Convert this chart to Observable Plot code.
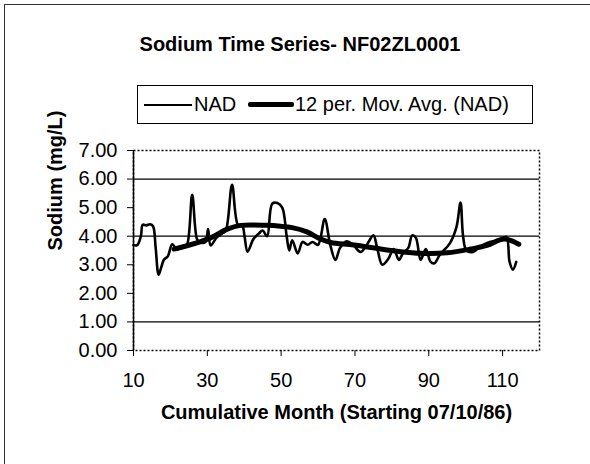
<!DOCTYPE html>
<html>
<head>
<meta charset="utf-8">
<script src="https://cdn.jsdelivr.net/npm/d3@7"></script>
<script src="https://cdn.jsdelivr.net/npm/@observablehq/plot@0.6"></script>
<style>
  html, body { margin: 0; padding: 0; background: #fff; }
  #wrap { position: relative; width: 590px; height: 464px; overflow: hidden; background: #fff;
          font-family: "Liberation Sans", Arial, sans-serif; color: #000; }
  #outer { position: absolute; left: 4px; top: 4px; width: 700px; height: 600px; z-index: 5; pointer-events: none;
           border-top: 1.5px solid #333; border-left: 1.5px solid #333; }
  #header { position: relative; height: 140px; }
  #title { position: absolute; left: 0; width: 600px; top: 34px; text-align: center;
           font-weight: bold; font-size: 20px; line-height: 20px; }
  #legend { position: absolute; left: 137px; top: 85px; width: 396px; height: 39px; box-sizing: border-box;
            border: 1px solid #000; font-size: 20px; }
  .sw { position: absolute; top: 18px; background: #000; }
  .lt { position: absolute; top: 8px; line-height: 20px; white-space: nowrap; }
  #chart { position: absolute; left: 0; top: 140px; }
</style>
</head>
<body>
<div id="wrap">
  <div id="outer"></div>
  <div id="header">
    <div id="title">Sodium Time Series- NF02ZL0001</div>
    <div id="legend">
      <div class="sw" style="left:6px;width:48px;height:2px;"></div>
      <div class="lt" style="left:56px;">NAD</div>
      <div class="sw" style="left:110px;width:46px;height:5px;top:16px;border-radius:2px;"></div>
      <div class="lt" style="left:157px;">12 per. Mov. Avg. (NAD)</div>
    </div>
  </div>
  <div id="chart"></div>
</div>
<script>
// NAD sodium series (cumulative month, mg/L)
const nadMonths = [10, 11, 12, 12.5, 13.5, 14.5, 15.3, 16, 16.8, 17.5, 18.2, 19.3, 20.5, 21.8, 22.5, 23.5, 24.5, 25.9, 27.2, 28, 29.5, 30.2, 30.9, 32.5, 34, 35, 36.7, 38.3, 39.5, 40.1, 40.9, 42.5, 44, 45, 46.2, 47.6, 49, 50.3, 51.5, 52.2, 53, 54.5, 55.8, 57.2, 58.5, 60, 61.8, 63.3, 64.7, 66, 67.8, 69.5, 71.5, 73, 75, 76, 77.4, 79, 80.5, 81.9, 83, 84.5, 85.5, 86.5, 87.8, 89.2, 90.5, 91.5, 93, 95.7, 97.5, 98.6, 99.3, 100.2, 102, 103.8, 106.5, 109.2, 111, 111.9, 112.8, 113.7];
const nadValues = [3.69, 3.69, 4.0, 4.4, 4.38, 4.42, 4.35, 3.6, 2.65, 2.9, 3.17, 3.3, 3.72, 3.52, 3.62, 3.6, 3.7, 5.45, 3.9, 3.78, 3.8, 4.25, 3.68, 3.95, 4.1, 4.2, 5.8, 4.4, 4.35, 3.98, 3.46, 3.9, 4.1, 4.2, 4.0, 5.14, 5.16, 5.0, 4.0, 3.5, 3.86, 3.4, 3.8, 3.7, 3.8, 3.7, 4.6, 3.7, 3.17, 3.6, 3.82, 3.7, 3.45, 3.65, 4.03, 3.6, 3.0, 3.2, 3.55, 3.17, 3.4, 3.6, 4.03, 3.95, 3.17, 3.55, 3.1, 3.05, 3.35, 3.75, 4.32, 5.18, 4.0, 3.5, 3.45, 3.63, 3.8, 3.86, 3.98, 3.1, 2.83, 3.1];
// 12-period moving average, as drawn
const maMonths = [21, 24, 28, 31, 35.4, 39, 46, 49.8, 53, 57, 60.7, 63.4, 69.7, 78.7, 87.8, 95, 101.3, 105.8, 110.4, 114.4];
const maValues = [3.55, 3.65, 3.8, 3.95, 4.25, 4.38, 4.38, 4.35, 4.3, 4.15, 3.9, 3.78, 3.69, 3.52, 3.4, 3.42, 3.55, 3.68, 3.9, 3.72];
const yTicks = [0, 1, 2, 3, 4, 5, 6, 7];
const xTicks = [10, 30, 50, 70, 90, 110];
const gridValues = [1, 4, 6];
const yLabel = "Sodium (mg/L)";
const xLabel = "Cumulative Month (Starting 07/10/86)";

const nad = nadMonths.map((m, i) => ({month: m, value: nadValues[i]}));
const ma = maMonths.map((m, i) => ({month: m, value: maValues[i]}));

const chart = Plot.plot({
  width: 590,
  height: 324,
  marginLeft: 133,
  marginRight: 51,
  marginTop: 10,
  marginBottom: 114,
  style: {fontFamily: "'Liberation Sans', Arial, sans-serif", fontSize: "20px", color: "#000", background: "transparent", overflow: "visible"},
  x: {domain: [10, 120]},
  y: {domain: [0, 7]},
  marks: [
    Plot.ruleY(gridValues, {stroke: "#000", strokeWidth: 1.2}),
    Plot.frame({stroke: "#000", strokeDasharray: "2,2", strokeWidth: 1.5}),
    Plot.ruleX([10], {stroke: "#000", strokeWidth: 1.5}),
    Plot.axisY({ticks: yTicks, tickFormat: d3.format(".2f"), tickSize: 6, tickPadding: 10, label: null, stroke: "#000", strokeOpacity: 1}),
    Plot.axisX({ticks: xTicks, tickSize: 6, tickPadding: 16, label: null, stroke: "#000", strokeOpacity: 1}),
    Plot.line(nad, {x: "month", y: "value", stroke: "#000", strokeWidth: 2.6, strokeLinejoin: "round", curve: "catmull-rom"}),
    Plot.line(ma, {x: "month", y: "value", stroke: "#000", strokeWidth: 5, strokeLinejoin: "round", strokeLinecap: "round", curve: "catmull-rom"}),
    Plot.text([yLabel], {text: d => d, frameAnchor: "left", dx: -78, rotate: -90, fontWeight: "bold", fontSize: 20}),
    Plot.text([xLabel], {text: d => d, frameAnchor: "bottom", dy: 68, fontWeight: "bold", fontSize: 20})
  ]
});
document.getElementById("chart").appendChild(chart);
</script>
</body>
</html>
